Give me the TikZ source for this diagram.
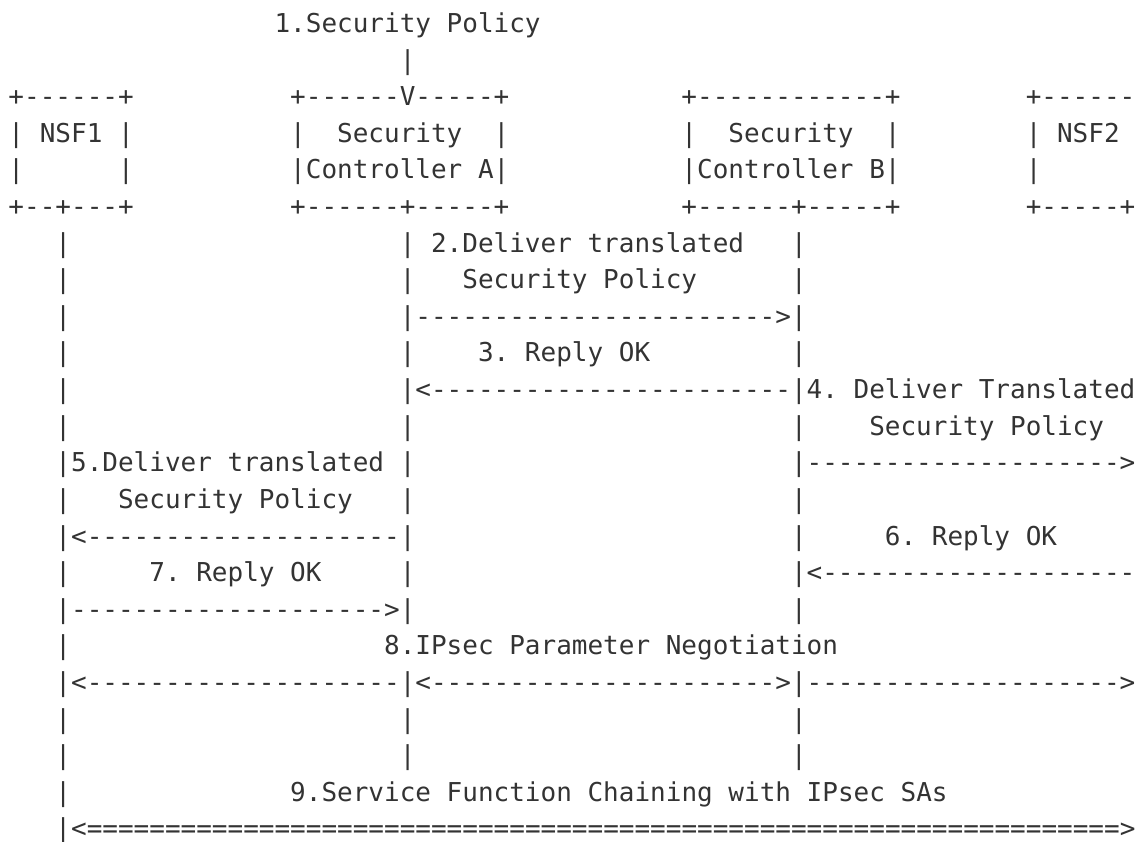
\documentclass[tikz,border=0pt]{standalone}
\usepackage{fontspec}
\newfontfamily\asciifont{DejaVu Sans Mono}[Ligatures=TeXOff]
\frenchspacing
\definecolor{ink}{HTML}{333333}

% repeat a character #1 times
\newcommand\rpt[2]{\foreach\rptidx in {1,...,#1}{#2}}

% character grid: 15.65pt per column, 36.6pt per row
\tikzset{
  art/.style={anchor=base west, inner sep=0pt, outer sep=0pt, text=ink,
    font=\asciifont\fontsize{26pt}{36.6pt}\selectfont},
}
% \cell{name}{column}{row}{text}
\newcommand\cell[4]{\node[art] (#1) at ({8.5pt+#2*15.65pt},{-32.6pt-#3*36.6pt}) {#4};}

\begin{document}
\begin{tikzpicture}
\useasboundingbox (0pt,0pt) rectangle (1136pt,-842pt);

% incoming policy
\cell{title}{17}{0}{1.Security~Policy}
\cell{pin}{25}{1}{|}

% boxes
\cell{nsfoneTop}{0}{2}{+------+}
\cell{ctlaTop}{18}{2}{+------V-----+}
\cell{ctlbTop}{43}{2}{+------------+}
\cell{nsftwoTop}{65}{2}{+------}

\cell{nsfoneName}{0}{3}{|~NSF1~|}
\cell{ctlaName}{18}{3}{|~~Security~~|}
\cell{ctlbName}{43}{3}{|~~Security~~|}
\cell{nsftwoName}{65}{3}{|~NSF2}

\cell{nsfoneMid}{0}{4}{|~~~~~~|}
\cell{ctlaMid}{18}{4}{|Controller~A|}
\cell{ctlbMid}{43}{4}{|Controller~B|}
\cell{nsftwoMid}{65}{4}{|}

\cell{nsfoneBot}{0}{5}{+--+---+}
\cell{ctlaBot}{18}{5}{+------+-----+}
\cell{ctlbBot}{43}{5}{+------+-----+}
\cell{nsftwoBot}{65}{5}{+-----+}

% lifelines
\foreach \r in {6,...,22} {\cell{lifeone-\r}{3}{\r}{|}}
\foreach \r in {6,...,16,18,19,20} {
  \cell{lifea-\r}{25}{\r}{|}
  \cell{lifeb-\r}{50}{\r}{|}
}

% 2. controller A -> controller B
\cell{msgtwo}{27}{6}{2.Deliver~translated}
\cell{msgtwob}{29}{7}{Security~Policy}
\cell{arrtwo}{26}{8}{\rpt{23}{-}>}

% 3. reply
\cell{msgthree}{30}{9}{3.~Reply~OK}
\cell{arrthree}{26}{10}{<\rpt{23}{-}}

% 4. controller B -> NSF2
\cell{msgfour}{51}{10}{4.~Deliver~Translated}
\cell{msgfourb}{55}{11}{Security~Policy}
\cell{arrfour}{51}{12}{\rpt{20}{-}>}

% 5. controller A -> NSF1
\cell{msgfive}{4}{12}{5.Deliver~translated}
\cell{msgfiveb}{7}{13}{Security~Policy}
\cell{arrfive}{4}{14}{<\rpt{20}{-}}

% 6. reply from NSF2
\cell{msgsix}{56}{14}{6.~Reply~OK}
\cell{arrsix}{51}{15}{<\rpt{20}{-}}

% 7. reply from NSF1
\cell{msgseven}{9}{15}{7.~Reply~OK}
\cell{arrseven}{4}{16}{\rpt{20}{-}>}

% 8. IPsec negotiation
\cell{msgeight}{24}{17}{8.IPsec~Parameter~Negotiation}
\cell{arreighta}{4}{18}{<\rpt{20}{-}}
\cell{arreightb}{26}{18}{<\rpt{22}{-}>}
\cell{arreightc}{51}{18}{\rpt{20}{-}>}

% 9. service chaining
\cell{msgnine}{18}{21}{9.Service~Function~Chaining~with~IPsec~SAs}
\cell{arrnine}{4}{22}{<\rpt{66}{=}>}
\end{tikzpicture}
\end{document}
